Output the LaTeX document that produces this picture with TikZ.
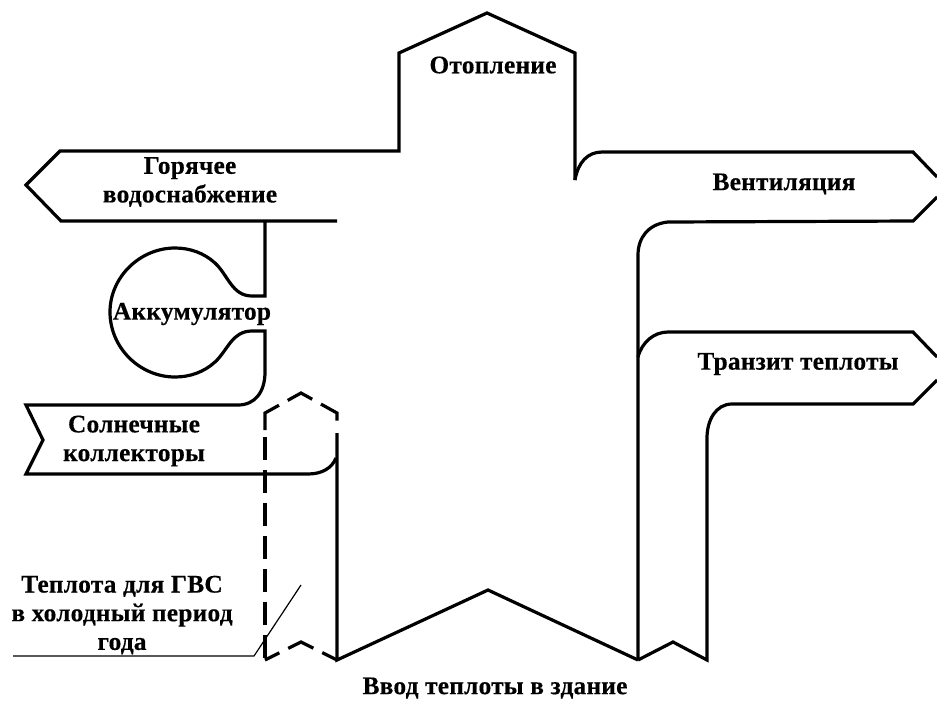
\documentclass[tikz,border=0pt]{standalone}
\usepackage{fontspec}
\setmainfont[LetterSpace=1,BoldFeatures={FakeBold=0.4}]{Liberation Serif}
\begin{document}
\begin{tikzpicture}[x=0.75pt,y=-0.75pt,
  flow/.style={line width=2.4pt,line join=miter,black},
  dashflow/.style={line width=2.4pt,black,dash pattern=on 17.25pt off 7.5pt},
  leader/.style={line width=0.9pt,black},
  lbl/.style={font=\bfseries\fontsize{19}{21.5}\selectfont,align=center,inner sep=0pt,text=black}]
\useasboundingbox (0,0) rectangle (937,700);
% main flow outline, top and left
\coordinate (solarEnd) at (336,458);
\coordinate (inA) at (337,660);
\coordinate (inB) at (638,660);
\draw[flow] (575,180) -- (575,53) -- (487,13) -- (399,53) -- (399,151) -- (60,151) -- (26,185) -- (61,221) -- (337,221);
% hot water branch to accumulator
\draw[flow] (265,221) -- (265,296) -- (252,296) .. controls (232,296) and (228,275) .. (215,263)
  .. controls (204,253) and (190,248) .. (175,248)
  .. controls (140,248) and (110,277) .. (110,312)
  .. controls (110,348) and (140,377) .. (175,377)
  .. controls (190,377) and (204,372) .. (215,362)
  .. controls (228,350) and (232,331) .. (252,331) -- (265,331) -- (265,372)
  .. controls (265,392) and (255,405) .. (238,405) -- (26,405) -- (43,440) -- (26,474) -- (308,474)
  .. controls (322,474) and (332,468) .. (solarEnd);
% main left wall and bottom chevron
\draw[flow] (337,433) -- (inA) -- (488,590) -- (inB);
% ventilation
\draw[flow] (575,180) .. controls (578,162) and (588,152) .. (602,152) -- (913,152) -- (937,177);
\draw[flow] (937,197) -- (913,221) -- (668,222) .. controls (648,224) and (638,238) .. (638,255) -- (inB);
% transit
\draw[flow] (638,357) .. controls (642,342) and (654,332) .. (668,332) -- (913,332) -- (937,357);
\draw[flow] (937,380) -- (913,404) -- (732,404) .. controls (716,404) and (707,420) .. (707,438) -- (707,660) -- (673,642) -- (inB);
% cold period dashed path
\draw[dashflow] (265,437) -- (265,660);
\draw[dashflow,dash pattern=on 24.75pt off 7.5pt on 21pt off 7.5pt on 19.5pt] (265,430) -- (265,413) -- (301,393) -- (337,413) -- (337,423);
\draw[dashflow,dash pattern=on 12pt off 7.5pt on 21pt off 7.5pt on 12pt] (265,660) -- (301,642) -- (inA);
% leader
\draw[leader] (13,656) -- (254,656) -- (301,585);
% labels
\node[lbl] (n1) at (493,65) {Отопление};
\node[lbl] (n2) at (190,182) {Горячее\\водоснабжение};
\node[lbl] (n3) at (784,184) {Вентиляция};
\node[lbl] (n4) at (192,314) {Аккумулятор};
\node[lbl] (n5) at (798,364) {Транзит теплоты};
\node[lbl] (n6) at (134,441) {Солнечные\\коллекторы};
\node[lbl] (n7) at (122,615) {Теплота для ГВС\\в холодный период\\года};
\node[lbl] (n8) at (495,688) {Ввод теплоты в здание};
\end{tikzpicture}
\end{document}
